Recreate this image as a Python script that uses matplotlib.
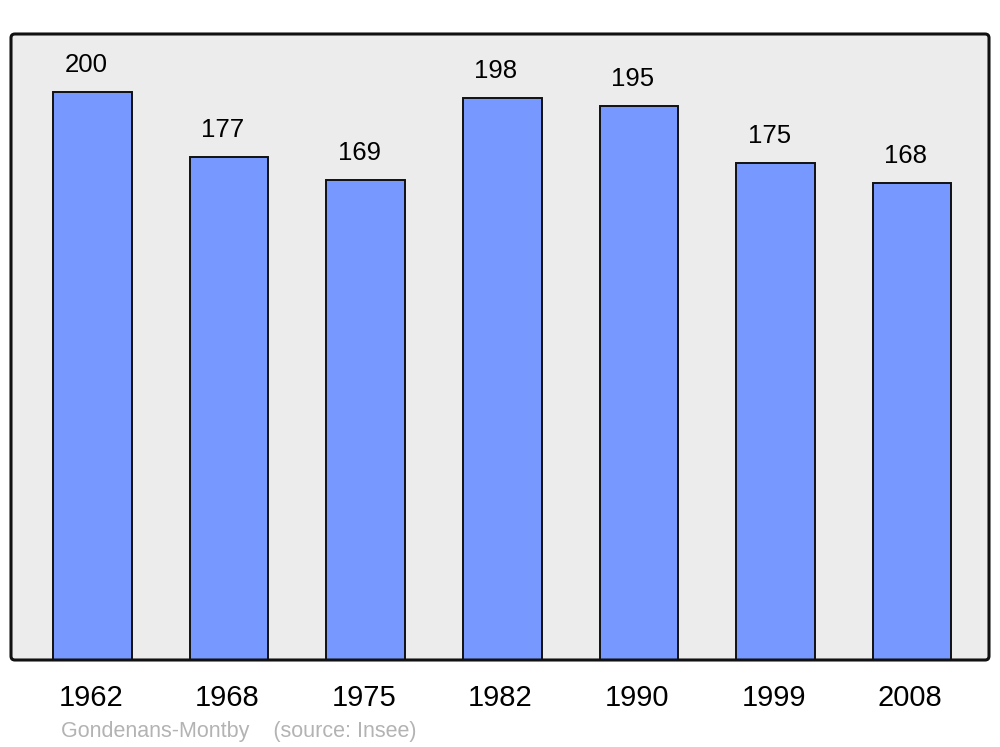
import matplotlib.pyplot as plt
from matplotlib.patches import FancyBboxPatch

years = ["1962", "1968", "1975", "1982", "1990", "1999", "2008"]
population = [200, 177, 169, 198, 195, 175, 168]

plt.rcParams["font.family"] = ["Liberation Sans", "DejaVu Sans"]

fig = plt.figure(figsize=(10, 7.47), dpi=100)
ax = fig.add_axes([0.011, 87 / 747, 0.978, 626 / 747])
ax.set_facecolor("#ececec")

x = range(len(years))
bars = ax.bar(x, population, width=0.575, color="#7799ff",
              edgecolor="#111111", linewidth=1.4, zorder=2)

for xi, v in zip(x, population):
    ax.annotate(str(v), (xi, v), xytext=(-4.6, 19.5), textcoords="offset points",
                ha="center", va="center", fontsize=18.5, color="black")

ax.set_xlim(-0.597, 6.563)
ax.set_ylim(0, 220.4)
ax.set_yticks([])
ax.set_xticks([xi - 0.013 for xi in x])
ax.set_xticklabels(years, fontsize=21)
ax.tick_params(axis="x", length=0, pad=17.5)

# rounded frame instead of square spines
for s in ax.spines.values():
    s.set_visible(False)
frame = FancyBboxPatch((0, 0), 1, 1, boxstyle="round,pad=0,rounding_size=0.004",
                       mutation_aspect=978 / 626, transform=ax.transAxes,
                       fill=False, edgecolor="#111111", linewidth=2.2,
                       clip_on=False, zorder=5)
ax.add_patch(frame)

fig.text(0.061, 1 - 731 / 747, "Gondenans-Montby    (source: Insee)",
         color="#b3b3b3", fontsize=15.5, ha="left", va="center")

fig.savefig("out.png", dpi=100)
